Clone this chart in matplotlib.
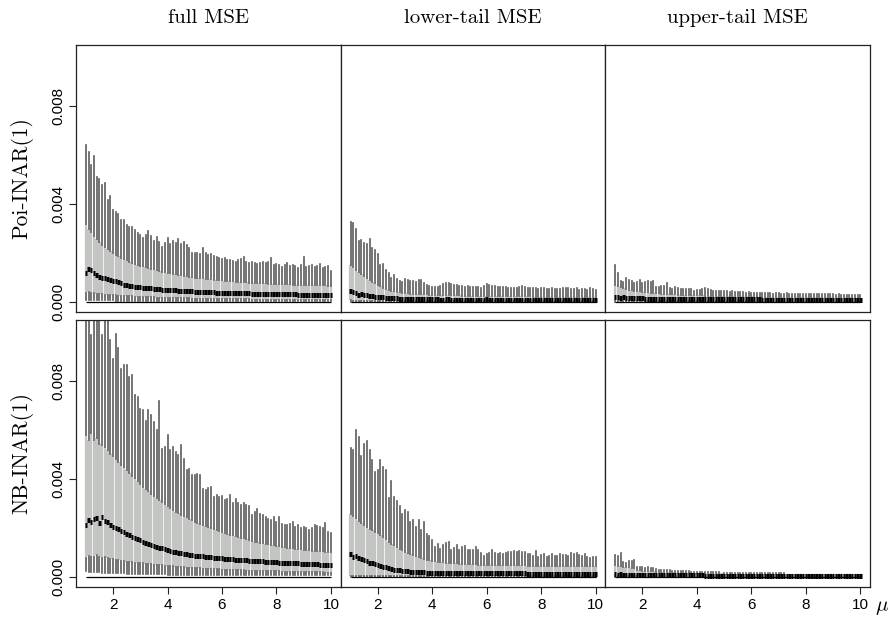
import numpy as np
import matplotlib
matplotlib.use("Agg")
import matplotlib.pyplot as plt

plt.rcParams["mathtext.fontset"] = "cm"

# mu grid: 1.0, 1.1, ..., 10.0 (one box per value)
mu = np.linspace(1.0, 10.0, 91)
SCALE = 1e-5  # all values below are in units of 1e-5

col_titles = ["full MSE", "lower-tail MSE", "upper-tail MSE"]
row_titles = ["Poi-INAR(1)", "NB-INAR(1)"]
ytick_vals = [0.0, 0.004, 0.008]
ytick_labels = ["0.000", "0.004", "0.008"]
xtick_vals = [2, 4, 6, 8, 10]

# ---- Poi-INAR(1), full MSE
poi_full_hi = [640, 612, 560, 596, 511, 504, 477, 484, 416, 432,
               375, 369, 360, 335, 335, 314, 307, 307, 294, 280,
               273, 260, 274, 290, 270, 250, 266, 246, 226, 240,
               260, 238, 250, 242, 256, 238, 246, 232, 222, 199,
               199, 200, 196, 219, 200, 190, 196, 188, 185, 180,
               174, 178, 172, 171, 168, 165, 170, 176, 182, 164,
               158, 162, 160, 155, 160, 165, 158, 162, 178, 150,
               156, 150, 144, 152, 160, 148, 150, 146, 137, 150,
               182, 144, 148, 150, 142, 146, 154, 140, 144, 148,
               128]
poi_full_q3 = [318, 300, 285, 270, 256, 244, 234, 224, 215, 207,
               200, 193, 187, 181, 175, 170, 165, 161, 157, 153,
               149, 145, 142, 139, 136, 133, 130, 127, 124, 121,
               119, 117, 115, 113, 111, 109, 107, 105, 103, 101,
               100, 98, 97, 96, 94, 93, 92, 91, 90, 89,
               88, 87, 86, 85, 84, 83, 83, 82, 81, 80,
               79, 79, 78, 77, 77, 76, 76, 75, 75, 74,
               74, 73, 73, 72, 72, 72, 71, 71, 71, 70,
               70, 70, 69, 69, 69, 68, 68, 68, 68, 67,
               67]
poi_full_med = [120, 134, 132, 118, 110, 104, 100, 96, 92, 90,
                86, 84, 80, 76, 70, 68, 66, 64, 63, 62,
                60, 59, 58, 57, 56, 55, 54, 52, 51, 50,
                49, 48, 47, 47, 46, 45, 45, 44, 44, 43,
                42, 42, 41, 41, 40, 40, 39, 39, 38, 38,
                38, 37, 37, 37, 36, 36, 36, 35, 35, 35,
                35, 34, 34, 34, 34, 33, 33, 33, 33, 32,
                32, 32, 32, 32, 31, 31, 31, 31, 30, 30,
                30, 30, 30, 29, 29, 29, 29, 29, 28, 28,
                28]
poi_full_q1 = [38, 40, 36, 35, 34, 33, 32, 30, 30, 29,
               28, 27, 26, 26, 25, 24, 24, 23, 22, 22,
               21, 21, 20, 20, 19, 19, 18, 18, 18, 17,
               17, 17, 16, 16, 16, 15, 15, 15, 15, 14,
               14, 14, 14, 13, 13, 13, 13, 13, 12, 12,
               12, 12, 12, 12, 11, 11, 11, 11, 11, 11,
               11, 10, 10, 10, 10, 10, 10, 10, 10, 10,
               9, 9, 9, 9, 9, 9, 9, 9, 9, 9,
               9, 8, 8, 8, 8, 8, 8, 8, 8, 8,
               8]
poi_full_lo = [8, 8, 8, 8, 8, 7, 7, 7, 7, 7,
               7, 6, 6, 6, 6, 6, 6, 6, 5, 5,
               5, 5, 5, 5, 5, 5, 5, 5, 4, 4,
               4, 4, 4, 4, 4, 4, 4, 4, 4, 4,
               4, 4, 4, 4, 4, 4, 4, 4, 4, 4,
               4, 4, 4, 4, 4, 3, 3, 3, 3, 3,
               3, 3, 3, 3, 3, 3, 3, 3, 3, 3,
               3, 3, 3, 3, 3, 3, 3, 3, 3, 3,
               3, 3, 3, 3, 3, 3, 3, 3, 3, 3,
               3]

# ---- Poi-INAR(1), lower-tail MSE
poi_low_hi = [328, 324, 296, 250, 252, 240, 236, 256, 222, 212,
              196, 150, 156, 130, 120, 100, 110, 92, 86, 80,
              92, 88, 84, 86, 82, 88, 90, 78, 70, 64,
              62, 60, 62, 64, 72, 79, 76, 72, 70, 68,
              66, 64, 62, 64, 62, 60, 62, 60, 58, 64,
              73, 68, 66, 64, 62, 60, 60, 62, 58, 58,
              56, 58, 62, 64, 60, 58, 56, 58, 56, 54,
              58, 56, 54, 52, 56, 54, 52, 54, 56, 58,
              56, 54, 52, 56, 50, 52, 54, 50, 56, 52,
              48]
poi_low_q3 = [151, 142, 132, 122, 114, 106, 98, 90, 82, 76,
              70, 64, 58, 54, 50, 46, 43, 41, 39, 37,
              36, 35, 34, 33, 33, 32, 32, 31, 31, 30,
              30, 29, 29, 29, 28, 28, 28, 27, 27, 27,
              27, 26, 26, 26, 26, 26, 25, 25, 25, 25,
              25, 25, 24, 24, 24, 24, 24, 24, 24, 23,
              23, 23, 23, 23, 23, 23, 23, 22, 22, 22,
              22, 22, 22, 22, 22, 22, 22, 21, 21, 21,
              21, 21, 21, 21, 21, 21, 21, 20, 20, 20,
              20]
poi_low_med = [46, 40, 38, 30, 34, 28, 30, 26, 24, 22,
               21, 20, 19, 18, 17, 16, 15, 15, 14, 14,
               13, 13, 13, 12, 12, 12, 12, 11, 11, 11,
               11, 11, 11, 10, 10, 12, 12, 10, 10, 10,
               10, 10, 10, 10, 10, 10, 9, 9, 9, 9,
               11, 9, 9, 9, 9, 9, 9, 9, 9, 9,
               9, 8, 10, 8, 8, 8, 8, 8, 8, 8,
               8, 8, 8, 8, 8, 8, 8, 8, 8, 8,
               8, 8, 8, 8, 8, 8, 8, 8, 8, 8,
               8]
poi_low_q1 = [7, 6, 6, 6, 5, 5, 5, 5, 5, 5,
              4, 4, 4, 4, 4, 4, 4, 4, 4, 4,
              4, 4, 4, 4, 4, 4, 4, 4, 4, 4,
              4, 4, 4, 4, 4, 4, 4, 4, 4, 4,
              3, 3, 3, 3, 3, 3, 3, 3, 3, 3,
              3, 3, 3, 3, 3, 3, 3, 3, 3, 3,
              3, 3, 3, 3, 3, 3, 3, 3, 3, 3,
              3, 3, 3, 3, 3, 3, 3, 3, 3, 3,
              3, 3, 3, 3, 3, 3, 3, 3, 3, 3,
              3]
poi_low_lo = [1] * 91

# ---- Poi-INAR(1), upper-tail MSE
poi_up_hi = [151, 117, 87, 83, 97, 90, 87, 76, 83, 90,
             76, 83, 84, 82, 84, 63, 62, 65, 64, 76,
             56, 52, 60, 57, 52, 55, 52, 52, 54, 46,
             48, 49, 52, 56, 52, 49, 46, 45, 45, 45,
             45, 45, 42, 45, 40, 39, 39, 40, 38, 39,
             37, 38, 37, 38, 38, 37, 35, 36, 34, 35,
             35, 34, 34, 35, 34, 34, 33, 34, 33, 33,
             33, 34, 32, 33, 33, 32, 32, 33, 31, 31,
             32, 30, 31, 30, 29, 30, 30, 29, 30, 29,
             29]
poi_up_q3 = [69, 64, 60, 56, 53, 50, 48, 46, 44, 43,
             42, 41, 40, 38, 37, 36, 35, 34, 33, 33,
             32, 31, 31, 30, 30, 29, 29, 28, 28, 28,
             27, 27, 27, 26, 26, 26, 26, 25, 25, 25,
             25, 24, 24, 24, 24, 24, 23, 23, 23, 23,
             23, 23, 22, 22, 22, 22, 22, 22, 22, 21,
             21, 21, 21, 21, 21, 21, 21, 21, 20, 20,
             20, 20, 20, 20, 20, 20, 20, 19, 19, 19,
             19, 19, 19, 19, 19, 19, 19, 19, 18, 18,
             18]
poi_up_med = [22, 20, 18, 19, 17, 16, 17, 16, 15, 15,
              15, 14, 14, 14, 14, 13, 13, 13, 13, 13,
              12, 12, 12, 12, 12, 12, 12, 12, 12, 12,
              12, 12, 11, 11, 11, 11, 11, 11, 11, 11,
              11, 11, 11, 11, 11, 11, 11, 11, 11, 11,
              11, 11, 11, 11, 10, 10, 10, 10, 10, 10,
              10, 10, 10, 10, 10, 10, 10, 10, 10, 10,
              10, 10, 10, 10, 10, 10, 10, 10, 10, 10,
              10, 10, 10, 10, 10, 10, 10, 10, 10, 10,
              10]
poi_up_q1 = [5, 5, 4, 4, 4, 4, 4, 4, 4, 4,
             3, 3, 3, 3, 3, 3, 3, 3, 3, 3,
             3, 3, 3, 3, 3, 3, 3, 3, 3, 3,
             3, 3, 3, 3, 3, 3, 3, 3, 3, 3,
             3, 3, 3, 3, 3, 3, 3, 3, 3, 3,
             2, 2, 2, 2, 2, 2, 2, 2, 2, 2,
             2, 2, 2, 2, 2, 2, 2, 2, 2, 2,
             2, 2, 2, 2, 2, 2, 2, 2, 2, 2,
             2, 2, 2, 2, 2, 2, 2, 2, 2, 2,
             2]
poi_up_lo = [0] * 91

# ---- NB-INAR(1), full MSE
nb_full_hi = [1100, 1150, 990, 1080, 1120, 1060, 990, 1070, 1110, 967,
              892, 994, 936, 851, 865, 868, 817, 824, 743, 736,
              685, 681, 636, 681, 661, 634, 600, 718, 525, 532,
              579, 518, 532, 511, 498, 539, 484, 437, 443, 416,
              416, 423, 416, 362, 355, 364, 368, 328, 335, 328,
              332, 314, 321, 335, 301, 321, 301, 294, 301, 296,
              291, 253, 267, 280, 260, 253, 246, 239, 233, 246,
              226, 246, 219, 215, 212, 219, 226, 205, 212, 199,
              205, 199, 192, 199, 212, 209, 205, 199, 223, 185,
              182]
nb_full_q3 = [579, 560, 590, 560, 570, 545, 540, 530, 520, 505,
              495, 484, 472, 460, 448, 436, 424, 412, 403, 392,
              380, 370, 360, 350, 340, 332, 322, 314, 305, 297,
              290, 282, 275, 268, 261, 255, 250, 244, 238, 232,
              227, 222, 217, 212, 207, 203, 199, 195, 191, 187,
              184, 180, 177, 174, 171, 168, 165, 162, 160, 157,
              150, 148, 145, 143, 140, 138, 136, 134, 132, 130,
              128, 126, 124, 122, 121, 119, 118, 116, 115, 114,
              112, 111, 110, 109, 108, 107, 106, 105, 104, 103,
              102]
nb_full_med = [212, 232, 226, 236, 240, 222, 245, 228, 224, 212,
               206, 200, 196, 190, 184, 178, 172, 166, 160, 154,
               150, 145, 140, 136, 132, 128, 124, 121, 118, 114,
               110, 107, 104, 102, 100, 98, 96, 94, 92, 90,
               88, 87, 86, 85, 84, 82, 81, 80, 79, 78,
               77, 76, 75, 74, 73, 72, 71, 70, 70, 69,
               68, 67, 67, 66, 65, 65, 64, 63, 63, 62,
               61, 60, 60, 59, 58, 58, 57, 56, 56, 55,
               55, 54, 53, 53, 52, 52, 51, 50, 50, 49,
               49]
nb_full_q1 = [80, 86, 84, 82, 90, 84, 80, 82, 78, 76,
              74, 72, 70, 68, 66, 64, 62, 61, 60, 58,
              57, 56, 55, 54, 52, 51, 50, 49, 48, 47,
              46, 45, 44, 43, 42, 41, 40, 39, 38, 38,
              37, 36, 36, 35, 34, 34, 33, 33, 32, 32,
              31, 31, 30, 30, 29, 29, 28, 28, 28, 27,
              27, 27, 26, 26, 26, 25, 25, 25, 24, 24,
              24, 24, 23, 23, 23, 22, 22, 22, 22, 21,
              21, 21, 21, 20, 20, 20, 20, 20, 19, 19,
              19]
nb_full_lo = [24, 22, 22, 21, 20, 20, 19, 19, 18, 18,
              17, 17, 16, 16, 16, 15, 15, 15, 14, 14,
              14, 13, 13, 13, 13, 12, 12, 12, 12, 12,
              11, 11, 11, 11, 11, 11, 10, 10, 10, 10,
              10, 10, 10, 10, 10, 10, 10, 10, 9, 9,
              9, 9, 9, 9, 9, 9, 9, 9, 9, 9,
              9, 9, 9, 9, 9, 8, 8, 8, 8, 8,
              8, 8, 8, 8, 8, 8, 8, 8, 8, 8,
              8, 8, 8, 8, 8, 8, 8, 8, 8, 8,
              8]

# ---- NB-INAR(1), lower-tail MSE
nb_low_hi = [529, 520, 602, 573, 494, 545, 556, 518, 480, 430,
             439, 477, 450, 437, 325, 393, 328, 311, 290, 257,
             273, 267, 226, 233, 205, 233, 192, 226, 175, 167,
             151, 124, 137, 117, 131, 140, 144, 113, 121, 131,
             110, 124, 126, 113, 110, 113, 124, 110, 97, 86,
             94, 99, 110, 99, 94, 99, 94, 99, 103, 103,
             107, 103, 105, 103, 103, 94, 94, 86, 107, 83,
             90, 94, 83, 86, 94, 86, 86, 94, 90, 90,
             86, 97, 94, 99, 90, 86, 94, 83, 80, 83,
             83]
nb_low_q3 = [257, 250, 240, 230, 221, 212, 205, 198, 192, 186,
             180, 172, 163, 154, 145, 137, 130, 123, 116, 110,
             104, 98, 93, 89, 85, 81, 78, 75, 72, 70,
             68, 66, 64, 62, 61, 60, 59, 58, 57, 56,
             55, 54, 54, 53, 53, 52, 52, 51, 51, 51,
             50, 50, 50, 50, 49, 49, 49, 49, 49, 48,
             48, 48, 48, 48, 48, 47, 47, 47, 47, 47,
             47, 46, 46, 46, 46, 46, 46, 46, 45, 45,
             45, 45, 45, 45, 45, 45, 44, 44, 44, 44,
             44]
nb_low_med = [96, 84, 86, 80, 76, 72, 68, 58, 56, 52,
              48, 44, 42, 40, 36, 34, 30, 29, 28, 27,
              25, 24, 22, 22, 21, 21, 20, 20, 19, 19,
              18, 18, 18, 18, 18, 18, 18, 17, 17, 17,
              17, 17, 17, 17, 17, 17, 17, 16, 16, 16,
              16, 16, 16, 16, 16, 16, 16, 16, 16, 16,
              16, 16, 16, 16, 16, 15, 15, 15, 15, 15,
              15, 15, 15, 15, 15, 15, 15, 15, 15, 15,
              15, 15, 15, 15, 15, 15, 15, 15, 15, 15,
              15]
nb_low_q1 = [6, 6, 6, 6, 6, 5, 5, 5, 5, 5,
             5, 5, 5, 5, 5, 5, 5, 5, 5, 5,
             4, 4, 4, 4, 4, 4, 4, 4, 4, 4,
             4, 4, 4, 4, 4, 4, 4, 4, 4, 4,
             4, 4, 4, 4, 4, 4, 4, 4, 4, 4,
             4, 4, 4, 4, 4, 4, 4, 4, 4, 4,
             4, 4, 4, 4, 4, 4, 4, 4, 4, 4,
             4, 4, 4, 4, 4, 4, 4, 4, 4, 4,
             4, 4, 4, 4, 4, 4, 4, 4, 4, 4,
             4]
nb_low_lo = [0] * 91

# ---- NB-INAR(1), upper-tail MSE
nb_up_hi = [92, 86, 97, 63, 58, 67, 67, 69, 42, 42,
            40, 39, 40, 39, 36, 35, 31, 30, 29, 29,
            28, 27, 26, 26, 25, 25, 24, 24, 23, 22,
            22, 22, 21, 21, 21, 20, 20, 20, 20, 19,
            19, 19, 19, 18, 18, 18, 18, 18, 17, 17,
            17, 17, 17, 17, 16, 16, 16, 16, 16, 16,
            16, 16, 16, 15, 15, 15, 15, 15, 15, 15,
            15, 15, 15, 15, 15, 15, 15, 14, 14, 14,
            14, 14, 14, 14, 14, 14, 14, 14, 14, 14,
            14]
nb_up_q3 = [49, 46, 46, 42, 40, 40, 38, 36, 30, 28,
            27, 26, 26, 25, 24, 23, 22, 22, 21, 21,
            20, 20, 19, 19, 19, 18, 18, 18, 18, 17,
            17, 17, 17, 17, 16, 16, 16, 16, 16, 16,
            15, 15, 15, 15, 15, 15, 15, 15, 15, 15,
            15, 15, 15, 14, 14, 14, 14, 14, 14, 14,
            14, 14, 14, 14, 14, 14, 14, 14, 14, 14,
            13, 13, 13, 13, 13, 13, 13, 13, 13, 13,
            13, 13, 13, 12, 12, 12, 12, 12, 12, 12,
            12]
nb_up_med = [14, 10, 13, 9, 11, 9, 9, 10, 9, 9,
             9, 9, 9, 9, 9, 9, 9, 9, 9, 9,
             9, 9, 8, 8, 8, 8, 8, 8, 8, 8,
             8, 8, 8, 5, 5, 5, 5, 5, 5, 5,
             5, 5, 5, 5, 5, 5, 5, 5, 5, 5,
             5, 5, 5, 5, 5, 5, 5, 5, 5, 5,
             5, 5, 5, 5, 5, 5, 5, 5, 5, 5,
             5, 5, 5, 5, 5, 5, 5, 5, 5, 5,
             5, 5, 5, 5, 5, 5, 5, 5, 5, 5,
             5]
nb_up_q1 = [4, 3, 4, 3, 3, 3, 3, 3, 3, 3,
            2, 2, 2, 2, 2, 2, 2, 2, 2, 2,
            2, 2, 2, 2, 2, 2, 2, 2, 2, 2,
            2, 2, 2, 1, 1, 1, 1, 1, 1, 1,
            1, 1, 1, 1, 1, 1, 1, 1, 1, 1,
            1, 1, 1, 1, 1, 1, 1, 1, 1, 1,
            1, 1, 1, 1, 1, 1, 1, 1, 1, 1,
            1, 1, 1, 1, 1, 1, 1, 1, 1, 1,
            1, 1, 1, 1, 1, 1, 1, 1, 1, 1,
            1]
nb_up_lo = [0] * 91

panels = [
    [(poi_full_hi, poi_full_q3, poi_full_med, poi_full_q1, poi_full_lo),
     (poi_low_hi, poi_low_q3, poi_low_med, poi_low_q1, poi_low_lo),
     (poi_up_hi, poi_up_q3, poi_up_med, poi_up_q1, poi_up_lo)],
    [(nb_full_hi, nb_full_q3, nb_full_med, nb_full_q1, nb_full_lo),
     (nb_low_hi, nb_low_q3, nb_low_med, nb_low_q1, nb_low_lo),
     (nb_up_hi, nb_up_q3, nb_up_med, nb_up_q1, nb_up_lo)],
]

BOX_GRAY = "#c3c5c3"
WHISK = "#5c5c5c"

W, H = 891, 618
fig = plt.figure(figsize=(W / 100, H / 100), dpi=100)

left_px, col_w = 76, 264.7
row_top = [44.8, 320.0]
row_h = 267.0


def draw_panel(ax, hi, q3, med, q1, lo):
    for arr in (hi, q3, med, q1, lo):
        assert len(arr) == len(mu), len(arr)
    stats = []
    for h, a, m, b, l in zip(hi, q3, med, q1, lo):
        stats.append(dict(whishi=h * SCALE, q3=a * SCALE, med=m * SCALE,
                          q1=b * SCALE, whislo=l * SCALE, fliers=[]))
    ax.bxp(stats, positions=mu, widths=0.09, patch_artist=True,
           showcaps=False, showfliers=False, manage_ticks=False,
           boxprops=dict(facecolor=BOX_GRAY, edgecolor=BOX_GRAY, linewidth=0.2),
           whiskerprops=dict(color=WHISK, linewidth=1.2, linestyle="-"),
           medianprops=dict(color="black", linewidth=3.6, solid_capstyle="butt"))
    ax.hlines(0, mu[0], mu[-1], color="black", lw=0.9, zorder=3)


for r in range(2):
    for c in range(3):
        x0 = (left_px + c * col_w) / W
        y0 = 1 - (row_top[r] + row_h) / H
        ax = fig.add_axes([x0, y0, col_w / W, row_h / H])
        draw_panel(ax, *panels[r][c])
        ax.set_xlim(0.64, 10.36)
        ax.set_ylim(-0.0004, 0.0105)
        for sp in ax.spines.values():
            sp.set_linewidth(0.9)
            sp.set_color("#222222")
        ax.tick_params(direction="out", length=5, width=0.8, labelsize=11,
                       color="#222222", pad=3)
        if c == 0:
            ax.set_yticks(ytick_vals)
            ax.set_yticklabels(ytick_labels, rotation=90, va="center",
                               family="Liberation Sans")
        else:
            ax.set_yticks([])
        if r == 1:
            ax.set_xticks(xtick_vals)
            ax.set_xticklabels([str(v) for v in xtick_vals], family="Liberation Sans")
        else:
            ax.set_xticks([])

for c, t in enumerate(col_titles):
    fig.text((left_px + (c + 0.5) * col_w) / W, 1 - 18 / H, t,
             ha="center", va="center", fontsize=15, family="cmr10")

for r, t in enumerate(row_titles):
    fig.text(22 / W, 1 - (row_top[r] + row_h / 2) / H, t, rotation=90,
             ha="center", va="center", fontsize=15.5, family="cmr10")

fig.text(882 / W, 1 - 607 / H, r"$\mu$", ha="center", va="center", fontsize=15)

fig.savefig("out.png", dpi=100)
